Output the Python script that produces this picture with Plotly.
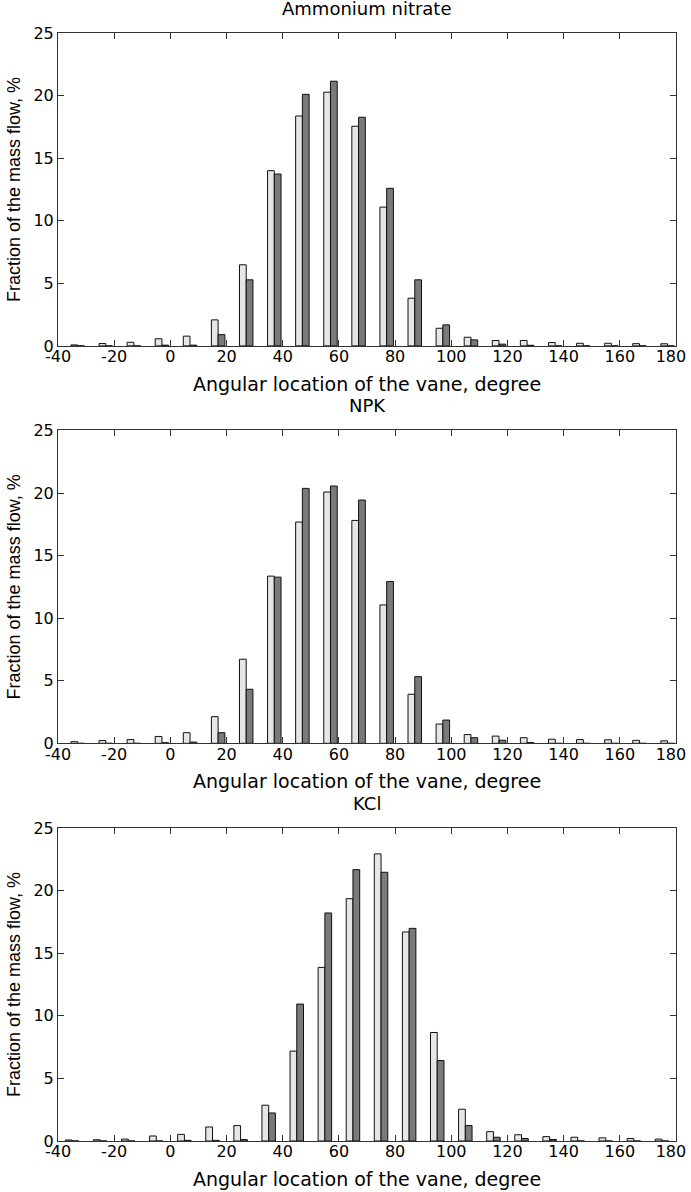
import plotly.graph_objects as go
from plotly.subplots import make_subplots

# ---- data ----
titles = ["Ammonium nitrate", "NPK", "KCl"]

angles_an = [-33, -23, -13, -3, 7, 17, 27, 37, 47, 57, 67, 77, 87, 97, 107, 117, 127, 137, 147, 157, 167, 177]
an_light = [0.08, 0.19, 0.29, 0.57, 0.78, 2.08, 6.48, 14.0, 18.37, 20.27, 17.55, 11.09, 3.81, 1.41, 0.69, 0.43, 0.43, 0.27, 0.21, 0.21, 0.18, 0.17]
an_dark = [0.0, 0.0, 0.0, 0.06, 0.06, 0.9, 5.28, 13.73, 20.1, 21.15, 18.27, 12.59, 5.28, 1.68, 0.48, 0.14, 0.05, 0.0, 0.0, 0.0, 0.0, 0.0]

angles_npk = [-33, -23, -13, -3, 7, 17, 27, 37, 47, 57, 67, 77, 87, 97, 107, 117, 127, 137, 147, 157, 167, 177]
npk_light = [0.13, 0.22, 0.3, 0.55, 0.85, 2.13, 6.72, 13.36, 17.68, 20.08, 17.81, 11.06, 3.92, 1.54, 0.7, 0.58, 0.45, 0.33, 0.3, 0.28, 0.24, 0.2]
npk_dark = [0.0, 0.0, 0.0, 0.05, 0.1, 0.85, 4.32, 13.28, 20.37, 20.56, 19.44, 12.93, 5.33, 1.86, 0.45, 0.25, 0.06, 0.0, 0.0, 0.0, 0.0, 0.0]

angles_kcl = [-35, -25, -15, -5, 5, 15, 25, 35, 45, 55, 65, 75, 85, 95, 105, 115, 125, 135, 145, 155, 165, 175]
kcl_light = [0.08, 0.1, 0.15, 0.4, 0.53, 1.12, 1.23, 2.86, 7.18, 13.87, 19.36, 22.94, 16.7, 8.67, 2.54, 0.75, 0.5, 0.35, 0.3, 0.25, 0.2, 0.15]
kcl_dark = [0.0, 0.0, 0.0, 0.0, 0.05, 0.05, 0.11, 2.24, 10.94, 18.22, 21.68, 21.47, 16.99, 6.43, 1.23, 0.3, 0.2, 0.12, 0.0, 0.0, 0.0, 0.0]

x_tickvals = [-40, -20, 0, 20, 40, 60, 80, 100, 120, 140, 160, 180]
x_ticktext = ["-40", "-20", "0", "20", "40", "60", "80", "100", "120", "140", "160", "180\u00a0\u00a0"]
y_tickvals = [0, 5, 10, 15, 20, 25]

xlabel = "Angular location of the vane, degree"
ylabel = "Fraction of the mass flow, %"

panels = [
    (angles_an, an_light, an_dark),
    (angles_npk, npk_light, npk_dark),
    (angles_kcl, kcl_light, kcl_dark),
]

LIGHT = "#e6e6e6"
DARK = "#7a7a7a"
HFONT = "DejaVu Sans, sans-serif"
VFONT = "Liberation Sans, Arial, sans-serif"

fig = make_subplots(rows=3, cols=1)

for i, (ang, light, dark) in enumerate(panels, start=1):
    fig.add_trace(go.Bar(x=ang, y=light, marker=dict(color=LIGHT, line=dict(color="#111111", width=1)),
                         showlegend=False, hoverinfo="x+y"), row=i, col=1)
    fig.add_trace(go.Bar(x=ang, y=dark, marker=dict(color=DARK, line=dict(color="#111111", width=1)),
                         showlegend=False, hoverinfo="x+y"), row=i, col=1)

domains = [[0.7176, 1.0], [0.3589, 0.6413], [0.0, 0.2824]]
layout_upd = {}
for i in range(3):
    sx = "xaxis" if i == 0 else f"xaxis{i+1}"
    sy = "yaxis" if i == 0 else f"yaxis{i+1}"
    layout_upd[sx] = dict(
        domain=[0, 1], range=[-40, 180], tickvals=x_tickvals, ticktext=x_ticktext,
        ticks="inside", ticklen=6, tickcolor="#333333", showline=True, linecolor="#333333",
        linewidth=1, mirror="ticks", showgrid=False, zeroline=False,
        tickfont=dict(family=HFONT, size=16, color="black"),
        ticklabeloverflow="allow", ticklabelstandoff=-4,
        title=dict(text=xlabel, font=dict(family=HFONT, size=19, color="black"), standoff=12),
        automargin=False,
    )
    layout_upd[sy] = dict(
        domain=domains[i], range=[0, 25], tickvals=y_tickvals,
        ticks="inside", ticklen=6, tickcolor="#333333", showline=True, linecolor="#333333",
        linewidth=1, mirror="ticks", showgrid=False, zeroline=False,
        tickfont=dict(family=HFONT, size=16, color="black"),
        title=dict(text=ylabel, font=dict(family=VFONT, size=18, color="black"), standoff=8),
        automargin=False,
    )
fig.update_layout(**layout_upd)

annotations = []
for i, t in enumerate(titles):
    annotations.append(dict(text=t, x=0.5, xref="paper", y=domains[i][1], yref="paper",
                            xanchor="center", yanchor="bottom", yshift=12, showarrow=False,
                            font=dict(family=HFONT, size=18, color="black")))

fig.update_layout(
    width=691, height=1192,
    margin=dict(l=58, r=15, t=33, b=51.3),
    paper_bgcolor="white", plot_bgcolor="white",
    barmode="group", bargap=0.52, bargroupgap=0.0,
    annotations=annotations,
    font=dict(family=HFONT, color="black"),
)

# remove the browser's default 8px body margin so the figure fills the window exactly
fig.write_html("out.html", config={"displayModeBar": False},
               post_script="document.body.style.margin='0';document.body.style.overflow='hidden';")
